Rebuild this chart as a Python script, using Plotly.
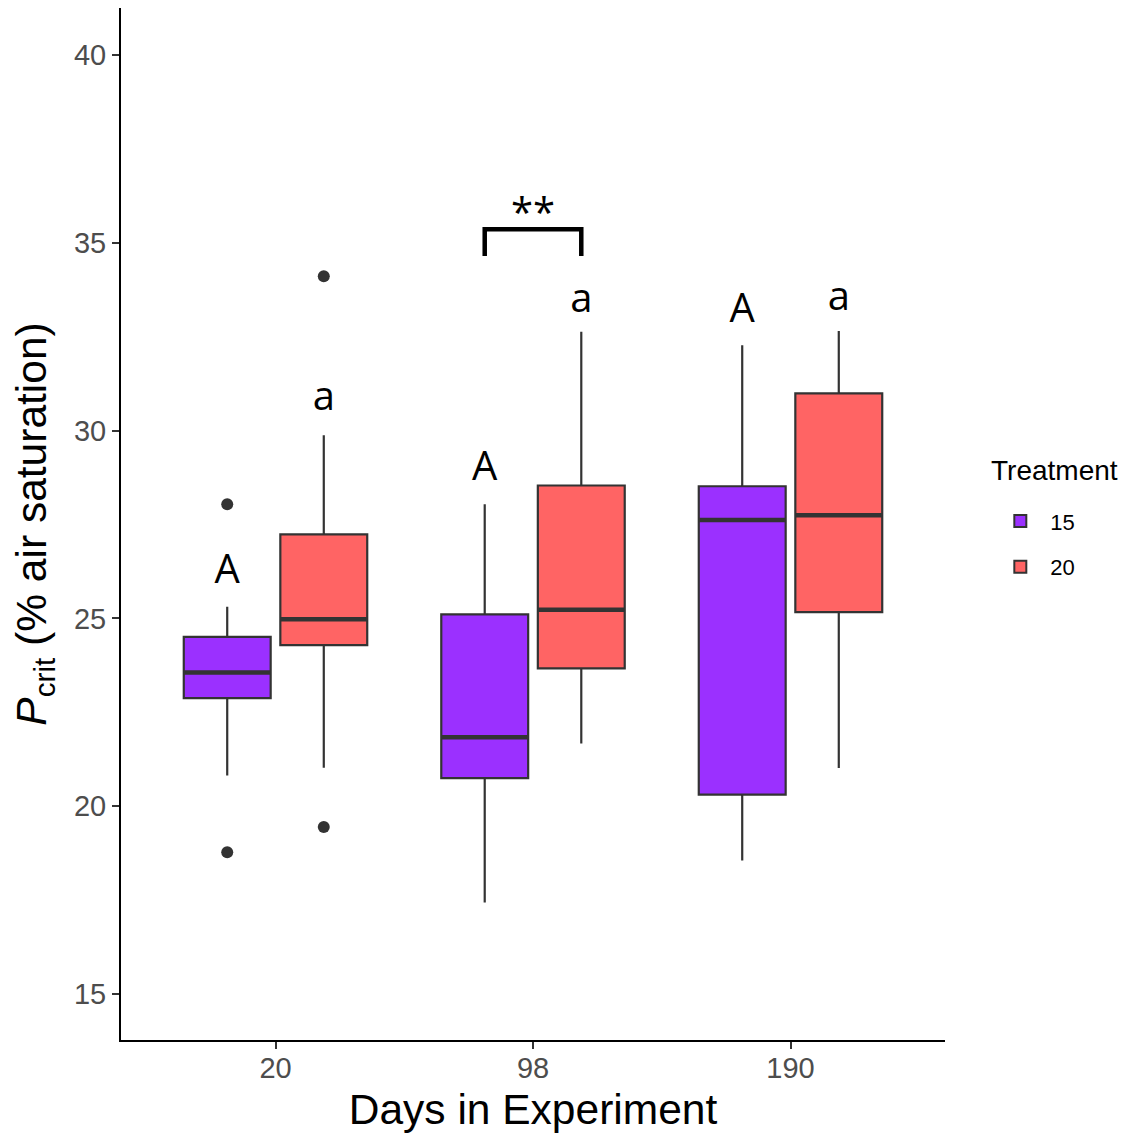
import plotly.graph_objects as go

# ---- data ----
days = ["20", "98", "190"]
treatments = ["15", "20"]
colors = {"15": "#9B30FF", "20": "#FF6464"}

q1 = {"15": [22.88, 20.75, 20.31], "20": [24.29, 23.67, 25.17]}
median = {"15": [23.56, 21.84, 27.62], "20": [24.98, 25.23, 27.75]}
q3 = {"15": [24.51, 25.11, 28.52], "20": [27.24, 28.54, 30.99]}
lowerfence = {"15": [20.82, 17.44, 18.56], "20": [21.03, 21.67, 21.02]}
upperfence = {"15": [25.31, 28.04, 32.27], "20": [29.88, 32.63, 32.65]}

outlier_x = {"15": ["20", "20"], "20": ["20", "20"]}
outlier_y = {"15": [28.04, 18.78], "20": [34.11, 19.45]}

letters = {"15": ["A", "A", "A"], "20": ["a", "a", "a"]}
letter_y = {"15": [26.2, 28.95, 33.16], "20": [30.81, 33.43, 33.48]}

sig_day = "98"
sig_label = "**"
bracket_top = 35.36
bracket_bottom = 34.65
sig_label_y = 35.83

legend_title = "Treatment"

BOXGAP = 0.25
BOXGROUPGAP = 0.1

fig = go.Figure()

for t in treatments:
    fig.add_trace(go.Box(
        x=days, q1=q1[t], median=median[t], q3=q3[t],
        lowerfence=lowerfence[t], upperfence=upperfence[t],
        name=t, offsetgroup=t, legendgroup=t,
        fillcolor=colors[t], line=dict(color="#333333", width=2.2),
        whiskerwidth=0, boxpoints=False, hoverinfo="skip",
    ))

# thick median bars (ggplot-style fattened median)
for t in treatments:
    fig.add_trace(go.Box(
        x=days, q1=median[t], median=median[t], q3=median[t],
        lowerfence=median[t], upperfence=median[t],
        name=t, offsetgroup=t, legendgroup=t, showlegend=False,
        fillcolor="rgba(0,0,0,0)", line=dict(color="#333333", width=4.5),
        whiskerwidth=0, boxpoints=False, hoverinfo="skip",
    ))

for t in treatments:
    fig.add_trace(go.Scatter(
        x=outlier_x[t], y=outlier_y[t], mode="markers", offsetgroup=t, legendgroup=t,
        marker=dict(color="#333333", size=12), showlegend=False, hoverinfo="skip",
    ))
    fig.add_trace(go.Scatter(
        x=days, y=letter_y[t], mode="text", text=letters[t], offsetgroup=t, legendgroup=t,
        textposition="middle center",
        textfont=dict(family="Open Sans", size=40, color="black"),
        showlegend=False, hoverinfo="skip",
    ))

# significance bracket between the two dodged boxes at sig_day
ci = days.index(sig_day)
dodge = (1 - BOXGAP) / 4
x_left, x_right = ci - dodge, ci + dodge
fig.add_shape(type="path", xref="x", yref="y",
              path=f"M {x_left},{bracket_bottom} L {x_left},{bracket_top} L {x_right},{bracket_top} L {x_right},{bracket_bottom}",
              line=dict(color="black", width=4.5))
fig.add_annotation(x=ci, y=sig_label_y, xref="x", yref="y", text=sig_label, showarrow=False,
                   font=dict(family="Open Sans", size=40, color="black"))

# legend title
fig.add_annotation(x=1.053, y=0.5514, xref="paper", yref="paper", xanchor="left", yanchor="middle",
                   text=legend_title, showarrow=False, font=dict(size=28, color="black"))

fig.update_layout(
    width=1128, height=1133,
    margin=dict(l=121, r=183, t=8, b=93, autoexpand=False),
    paper_bgcolor="white", plot_bgcolor="white",
    boxmode="group", boxgap=BOXGAP, boxgroupgap=BOXGROUPGAP,
    scattermode="group", scattergap=BOXGAP,
    font=dict(family="Liberation Sans, Arial, sans-serif"),
    legend=dict(
        font=dict(size=22, color="black"),
        x=1.055, y=0.523, xanchor="left", yanchor="top",
        traceorder="grouped", itemsizing="constant", itemwidth=50,
        tracegroupgap=14,
    ),
    showlegend=True,
)

fig.update_xaxes(
    type="category", categoryorder="array", categoryarray=days,
    range=[-0.6, 2.6], automargin=False,
    showline=True, linecolor="black", linewidth=2,
    ticks="outside", ticklen=7, tickwidth=2, tickcolor="#333333",
    tickfont=dict(size=29, color="#4D4D4D"),
    ticklabelstandoff=-6,
    showgrid=False, zeroline=False,
    title=dict(text="Days in Experiment", font=dict(size=42.5, color="black"), standoff=12),
)
fig.update_yaxes(
    range=[13.78, 41.25], automargin=False,
    tickvals=[15, 20, 25, 30, 35, 40],
    showline=True, linecolor="black", linewidth=2,
    ticks="outside", ticklen=7, tickwidth=2, tickcolor="#333333",
    tickfont=dict(size=29, color="#4D4D4D"),
    showgrid=False, zeroline=False,
    title=dict(text="<i>P</i><sub>crit</sub> (% air saturation)", font=dict(size=42.5, color="black"), standoff=14),
)

fig.write_html("out.html")
